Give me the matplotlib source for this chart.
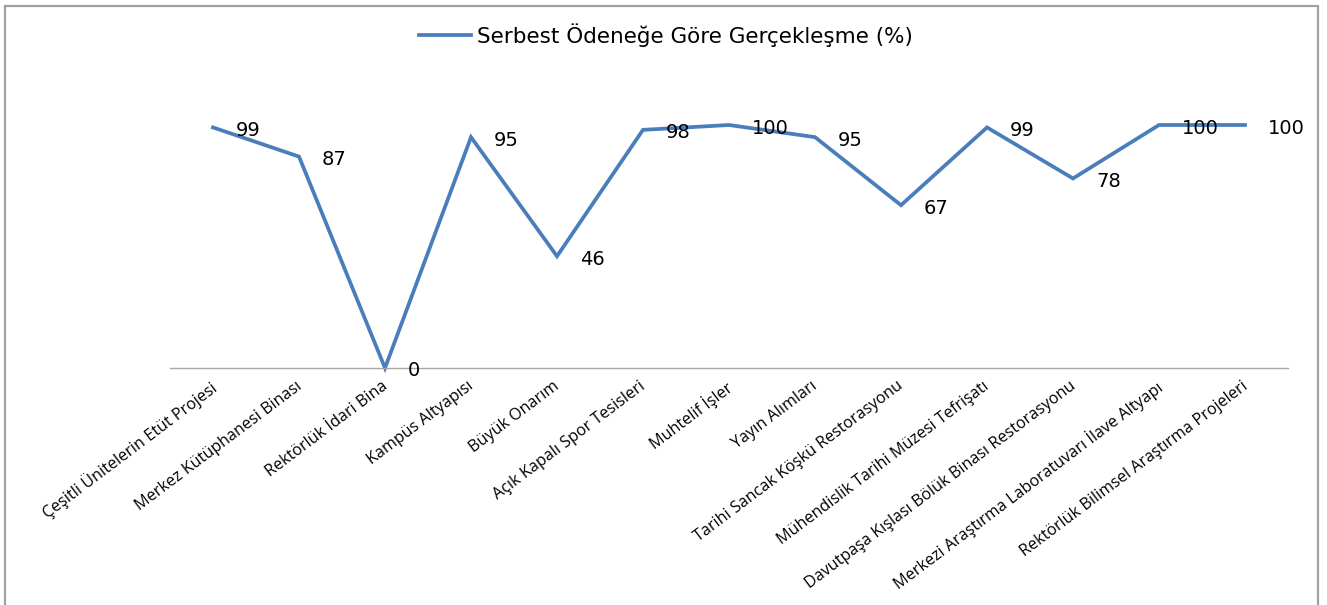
import matplotlib
matplotlib.use("Agg")
import matplotlib.pyplot as plt
import matplotlib.transforms as mtransforms
from matplotlib.patches import Rectangle

categories = [
    "Çeşitli Ünitelerin Etüt Projesi",
    "Merkez Kütüphanesi Binası",
    "Rektörlük İdari Bina",
    "Kampüs Altyapısı",
    "Büyük Onarım",
    "Açık Kapalı Spor Tesisleri",
    "Muhtelif İşler",
    "Yayın Alımları",
    "Tarihi Sancak Köşkü Restorasyonu",
    "Mühendislik Tarihi Müzesi Tefrişatı",
    "Davutpaşa Kışlası Bölük Binası Restorasyonu",
    "Merkezi Araştırma Laboratuvarı İlave Altyapı",
    "Rektörlük Bilimsel Araştırma Projeleri",
]
values = [99, 87, 0, 95, 46, 98, 100, 95, 67, 99, 78, 100, 100]
series_name = "Serbest Ödeneğe Göre Gerçekleşme (%)"

W, H = 1327, 605
fig = plt.figure(figsize=(W / 100, H / 100), dpi=100)
fig.patch.set_facecolor("white")

left, right, bottom, top = 170, 1288, 368, 125
ax = fig.add_axes([left / W, 1 - bottom / H, (right - left) / W, (bottom - top) / H])
x = list(range(len(categories)))
line, = ax.plot(x, values, color="#4A7EBB", lw=2.7, clip_on=False,
                solid_joinstyle="miter", label=series_name)
ax.set_xlim(-0.5, len(categories) - 0.5)
ax.set_ylim(0, 100)

for s in ["top", "right", "left"]:
    ax.spines[s].set_visible(False)
ax.spines["bottom"].set_color("#A6A6A6")
ax.spines["bottom"].set_linewidth(1.0)
ax.set_yticks([])
ax.set_xticks(x)
ax.tick_params(axis="x", length=0, pad=0)
ax.set_xticklabels(categories, rotation=37, ha="right", va="top",
                   rotation_mode="anchor", fontsize=11.6, family=["Open Sans", "DejaVu Sans"],
                   color="#000000")
offset = mtransforms.ScaledTranslation(-4 / 100, -10 / 100, fig.dpi_scale_trans)
for lab in ax.get_xticklabels():
    lab.set_transform(lab.get_transform() + offset)

for xi, v in zip(x, values):
    ax.annotate(f"{v}", (xi, v), xytext=(23, -3), textcoords="offset pixels",
                ha="left", va="center", fontsize=14, family="DejaVu Sans",
                color="#000000", annotation_clip=False)

fig.legend(handles=[line], loc="center", bbox_to_anchor=(0.502, 1 - 35 / H),
           frameon=False, handlelength=2.4, handletextpad=0.28,
           prop={"family": "DejaVu Sans", "size": 15.5})

fig.add_artist(Rectangle((5 / W, -0.02), (1318 - 5) / W, 1.02 - 6 / H,
                         transform=fig.transFigure, fill=False,
                         edgecolor="#A0A0A0", lw=1.6))

fig.savefig("out.png", dpi=100, facecolor="white")
